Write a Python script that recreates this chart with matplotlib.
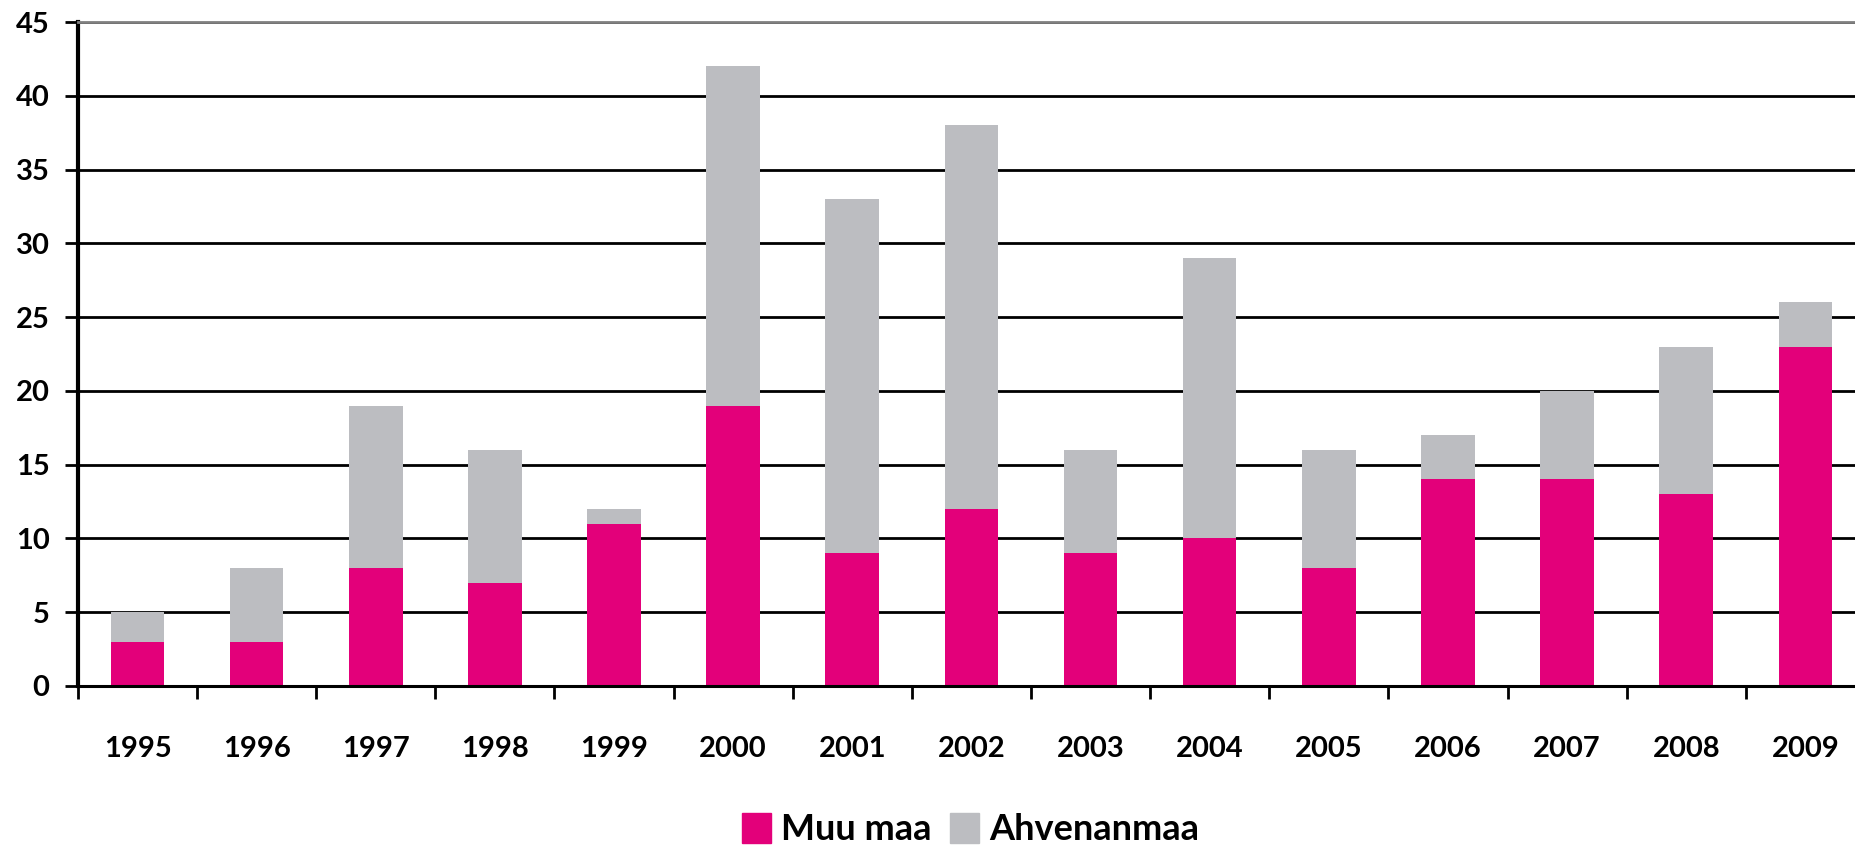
import numpy as np
import matplotlib
matplotlib.use("Agg")
from matplotlib import pyplot as plt
from matplotlib.patches import Patch

years = ["1995", "1996", "1997", "1998", "1999", "2000", "2001", "2002",
         "2003", "2004", "2005", "2006", "2007", "2008", "2009"]
muu_maa = [3, 3, 8, 7, 11, 19, 9, 12, 9, 10, 8, 14, 14, 13, 23]
ahvenanmaa = [2, 5, 11, 9, 1, 23, 24, 26, 7, 19, 8, 3, 6, 10, 3]

PINK = "#E3007A"
GREY = "#BCBDC1"

plt.rcParams['font.family'] = ['Lato', 'DejaVu Sans']
plt.rcParams['font.weight'] = 'bold'

fig = plt.figure(figsize=(18.56, 8.5), dpi=100)
ax = fig.add_axes([0.042, 0.193, 0.9628, 0.781])

x = np.arange(len(years))
w = 0.45
ax.bar(x, muu_maa, w, color=PINK, zorder=2)
ax.bar(x, ahvenanmaa, w, bottom=muu_maa, color=GREY, zorder=2)

ax.set_xlim(-0.5, len(years) - 0.5)
ax.set_ylim(0, 45)
ax.set_yticks(range(0, 46, 5))
ax.set_axisbelow(True)
ax.yaxis.grid(True, color="black", linewidth=2)

# x: labels at centres, tick marks between the categories
ax.set_xticks(x)
ax.set_xticklabels(years)
ax.set_xticks(np.arange(-0.5, len(years)), minor=True)
ax.tick_params(axis="x", which="major", length=0, pad=36, labelsize=21)
ax.tick_params(axis="x", which="minor", length=9, width=2, direction="out")
ax.tick_params(axis="y", length=9.5, width=2, pad=11, labelsize=21)

ax.spines["left"].set_linewidth(3)
ax.spines["bottom"].set_linewidth(2.2)
ax.spines["top"].set_color("#808080")
ax.spines["top"].set_linewidth(2)
ax.spines["right"].set_visible(False)

handles = [Patch(color=PINK, label="Muu maa"), Patch(color=GREY, label="Ahvenanmaa")]
fig.legend(handles=handles, loc="center", bbox_to_anchor=(0.523, 0.024), ncol=2,
           frameon=False, fontsize=26, handlelength=0.8, handleheight=0.9,
           handletextpad=0.3, columnspacing=0.5, borderpad=0.1)

fig.savefig("out.png", dpi=100)
